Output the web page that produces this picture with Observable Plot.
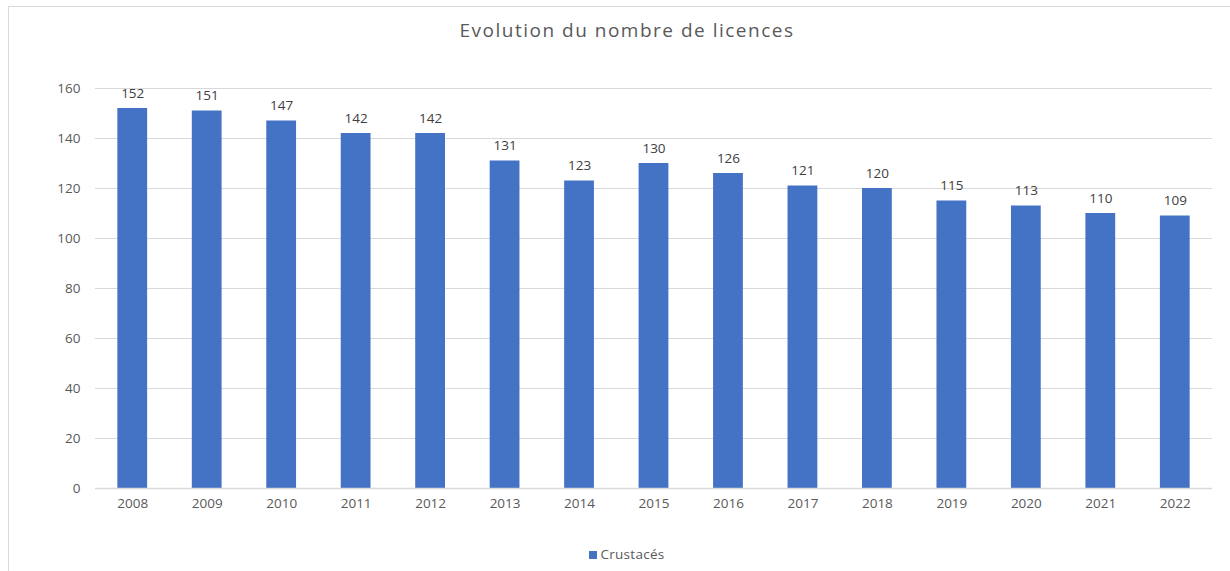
<!DOCTYPE html>
<html><head><meta charset="utf-8">
<script src="https://cdn.jsdelivr.net/npm/d3@7"></script>
<script src="https://cdn.jsdelivr.net/npm/@observablehq/plot@0.6"></script>
<style>
html,body{margin:0;padding:0;background:#fff;}
#wrap{position:relative;width:1230px;height:571px;overflow:hidden;font-family:"Open Sans",sans-serif;}
#frame{position:absolute;left:8px;top:6px;width:1240px;height:600px;border:1.5px solid #d9d9d9;box-sizing:border-box;}
#title{position:absolute;left:0;width:1254px;top:17px;text-align:center;font-size:19px;letter-spacing:1.5px;color:#595959;}
#legend{position:absolute;left:0;width:1254px;top:545px;text-align:center;font-size:13.5px;letter-spacing:0.3px;color:#595959;}
#legend span.sw{display:inline-block;width:8px;height:8px;background:#4472C4;margin-right:3px;vertical-align:0px;}
#chart{position:absolute;left:0;top:0;}
</style></head>
<body><div id="wrap"><div id="frame"></div><div id="chart"></div>
<div id="title">Evolution du nombre de licences</div>
<div id="legend"><span class="sw"></span>Crustacés</div></div>
<script>
const years = ["2008","2009","2010","2011","2012","2013","2014","2015","2016","2017","2018","2019","2020","2021","2022"];
const licences = [152,151,147,142,142,131,123,130,126,121,120,115,113,110,109];
const yTicks = [0,20,40,60,80,100,120,140,160];
const data = years.map((y,i)=>({year:y, value:licences[i]}));

const chart = Plot.plot({
  width:1230, height:571,
  marginLeft:95, marginRight:18, marginTop:88, marginBottom:83,
  style:{fontFamily:"Open Sans, sans-serif", fontSize:"14px", color:"#595959", background:"transparent"},
  x:{domain:years, paddingInner:0.6, paddingOuter:0.3, round:false, label:null, tickSize:0, tickPadding:10},
  y:{domain:[0,160], ticks:yTicks, label:null, tickSize:0, tickPadding:15},
  marks:[
    Plot.gridY(yTicks.filter(t=>t>0), {stroke:"#d9d9d9", strokeOpacity:1, strokeWidth:1}),
    Plot.barY(data, {x:"year", y:"value", fill:"#4472C4"}),
    Plot.ruleY([0], {stroke:"#d9d9d9", strokeWidth:1.5}),
    Plot.text(data, {x:"year", y:"value", text:d=>String(d.value), dy:-15, fill:"#404040", fontSize:13.5}),
    Plot.axisX({tickSize:0, tickPadding:10, fontSize:13.5, fill:"#595959", label:null}),
    Plot.axisY({ticks:yTicks, tickSize:0, tickPadding:15, fontSize:13.5, fill:"#595959", label:null})
  ]
});
document.getElementById("chart").appendChild(chart);
</script></body></html>
